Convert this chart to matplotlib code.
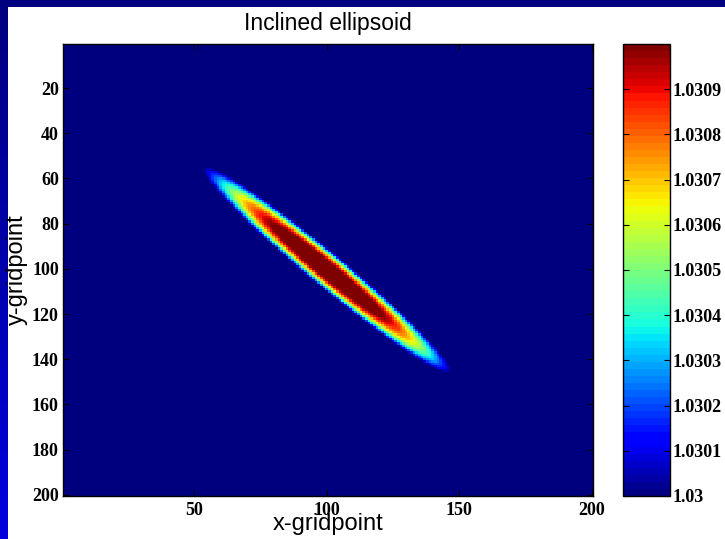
import numpy as np
import matplotlib.pyplot as plt
from matplotlib.patches import Rectangle
from matplotlib.ticker import FormatStrFormatter

# grid and ellipsoid shape
nx, ny = 200, 200
x_center, y_center = 100.2, 100.5
semi_major, semi_minor = 65.0, 7.0
tilt_deg = 44.3
base_value = 1.03
peak_height = 0.00125

x_ticks = [50, 100, 150, 200]
y_ticks = [20, 40, 60, 80, 100, 120, 140, 160, 180, 200]
cbar_ticks = [1.03, 1.0301, 1.0302, 1.0303, 1.0304, 1.0305,
              1.0306, 1.0307, 1.0308, 1.0309]
cbar_max = 1.031

# build the inclined ellipsoid field (core saturates the colour scale)
xg, yg = np.meshgrid(np.arange(1, nx + 1), np.arange(1, ny + 1))
t = np.deg2rad(tilt_deg)
u = (xg - x_center) * np.cos(t) + (yg - y_center) * np.sin(t)
v = -(xg - x_center) * np.sin(t) + (yg - y_center) * np.cos(t)
r2 = (u / semi_major) ** 2 + (v / semi_minor) ** 2
field = base_value + peak_height * np.clip(1 - r2, 0, None)

W, H = 725, 539
fig = plt.figure(figsize=(W / 100, H / 100), dpi=100, facecolor='white')

# slide-style blue frame on top and left
fig.patches.append(Rectangle((0, 1 - 7 / H), 1, 7 / H, transform=fig.transFigure,
                             facecolor='#000080', edgecolor='none', zorder=0))
strip = fig.add_axes([0, 0, 8 / W, 1 - 7 / H])
grad = np.zeros((100, 1, 3))
grad[:, 0, 2] = np.linspace(128, 222, 100) / 255
strip.imshow(grad, aspect='auto', interpolation='bilinear')
strip.set_axis_off()

tick_font = dict(family='Liberation Serif', weight='bold', size=13)
label_font = dict(family='Liberation Sans', size=17)

ax = fig.add_axes([63 / W, 1 - 496 / H, (593 - 63) / W, (496 - 44) / H])
cmap = plt.get_cmap('jet', 64)
im = ax.imshow(field, cmap=cmap, vmin=base_value, vmax=cbar_max,
               extent=(0.5, nx + 0.5, ny + 0.5, 0.5), aspect='auto',
               interpolation='nearest')
ax.set_xticks(x_ticks)
ax.set_yticks(y_ticks)
ax.tick_params(direction='in', length=4, width=0.8, top=True, right=True,
               pad=3)
ax.tick_params(axis='x', pad=4)
for lab in ax.get_xticklabels() + ax.get_yticklabels():
    lab.set(**tick_font)
for s in ax.spines.values():
    s.set_linewidth(1.0)

ax.set_title('Inclined ellipsoid', fontdict=dict(family='Liberation Sans', size=16.5), pad=10)
ax.set_xlabel('x-gridpoint', fontdict=label_font, labelpad=-4)
ax.set_ylabel('y-gridpoint', fontdict=label_font, labelpad=3)

cax = fig.add_axes([623 / W, 1 - 496 / H, (670 - 623) / W, (496 - 44) / H])
cb = fig.colorbar(im, cax=cax, ticks=cbar_ticks)
cb.ax.yaxis.set_major_formatter(FormatStrFormatter('%g'))
cb.ax.tick_params(direction='in', length=4, width=0.8, left=True, right=True, pad=2)
cb.outline.set_linewidth(1.0)
for lab in cb.ax.get_yticklabels():
    lab.set(**tick_font)

fig.savefig('out.png', dpi=100, facecolor='white')
